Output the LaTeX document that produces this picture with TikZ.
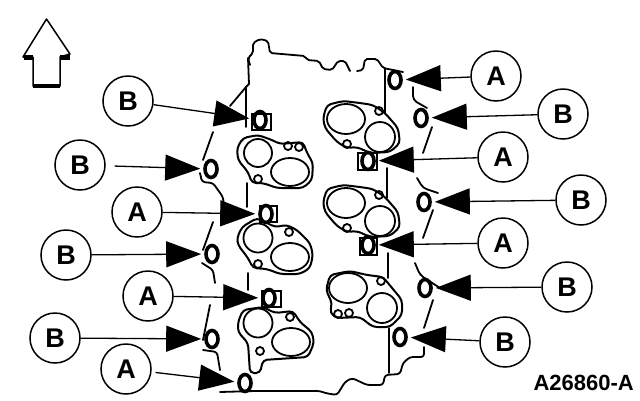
\documentclass[tikz,border=0pt]{standalone}
\usepackage{fontspec}
\setmainfont{Liberation Sans}
\usetikzlibrary{shapes.geometric,arrows.meta}
\tikzset{
  callout/.style={circle,draw,line width=1.5pt,minimum size=50pt,inner sep=0pt,font=\fontsize{27}{27}\selectfont\bfseries},
  hole/.style={ellipse,draw,line width=3.6pt,minimum width=12pt,minimum height=17pt,inner sep=0pt},
  leader/.style={line width=1.3pt,-{Triangle[length=35pt,width=26pt]},shorten >=3pt},
  part/.style={line width=1.8pt,line join=round,line cap=round},
  gasket/.style={part,line width=2pt,rounded corners=4pt},
  bore/.style={draw,line width=1.8pt},
  tinyhole/.style={circle,draw,line width=1.8pt,minimum size=8pt,inner sep=0pt}
}
\begin{document}
\begin{tikzpicture}[x=1pt,y=-1pt]
\useasboundingbox (0,0) rectangle (640,400);
% north arrow
\draw[line width=1.5pt,line join=round] (46.5,19) -- (70,54) -- (60,57) -- (60,86) -- (33,86) -- (33,57) -- (23,57) -- cycle;
\draw[line width=5pt] (24,57) -- (33,57) (60,57) -- (70,57);
\draw[line width=4pt] (33,86) -- (60,86);
% block outline
\draw[part,rounded corners=2pt] (250,65) -- (248,58) -- (253,53) -- (253,43) -- (260,39) -- (268,41) -- (270,53) -- (305,56) -- (307,60) -- (319,61) -- (323,69) -- (332,70) -- (338,61) -- (345,61) -- (350,71);
\draw[part,rounded corners=2pt] (357,71) -- (363,70) -- (365,59) -- (377,59) -- (383,68) -- (403,72);
\draw[part] (248,58) -- (249,84) -- (246,87) -- (230,106);
\draw[part] (246,87) -- (246,127);
\draw[part] (247,183) -- (247,207);
\draw[part] (248,273) -- (248,290);
\draw[part] (385,68) -- (385,113);
\draw[part] (387,168) -- (387,198);
\draw[part] (388,253) -- (388,278);
\draw[part] (389,328) -- (389,373);
\draw[part,rounded corners=3pt] (220,392) -- (255,391) -- (320,391) -- (325,393) -- (337,395) -- (345,382) -- (352,378) -- (367,385) -- (383,385) -- (385,375) -- (400,374) -- (403,363) -- (410,357) -- (424,357) -- (424,347);
% side lines, left
\draw[part,rounded corners=5pt] (213,132) -- (203,160);
\draw[part,rounded corners=3pt] (200,173) -- (202,182) -- (213,183) -- (223,197) -- (224,207);
\draw[part,rounded corners=5pt] (213,222) -- (203,250);
\draw[part,rounded corners=3pt] (202,263) -- (213,270) -- (215,283);
\draw[part,rounded corners=5pt] (210,305) -- (203,340);
\draw[part,rounded corners=3pt] (203,350) -- (217,352) -- (220,370);
% side lines, right
\draw[part,rounded corners=4pt] (413,87) -- (413,100) -- (427,108);
\draw[part,rounded corners=4pt] (432,127) -- (423,153);
\draw[part,rounded corners=4pt] (417,178) -- (423,188) -- (438,193);
\draw[part,rounded corners=4pt] (433,210) -- (423,238);
\draw[part,rounded corners=4pt] (415,263) -- (420,275) -- (440,288);
\draw[part,rounded corners=4pt] (433,300) -- (424,328);
% gasket left 1
\draw[gasket] (237,148) -- (243,138) -- (258,135) -- (272,140) -- (280,144) -- (303,142) -- (307,153) -- (313,163) -- (312,180) -- (303,188) -- (277,188) -- (263,183) -- (252,183) -- (248,172) -- (238,160) -- cycle;
\draw[bore] (258,153) circle[radius=14];
\draw[bore] (290,172) ellipse[x radius=19,y radius=14];
\node[tinyhole] (s1) at (288,146) {};
\node[tinyhole] (s2) at (299,147) {};
\node[tinyhole] (s3) at (258,179) {};
% gasket left 2
\draw[gasket] (237,238) -- (242,227) -- (257,218) -- (275,227) -- (287,225) -- (297,230) -- (310,243) -- (313,255) -- (310,268) -- (300,274) -- (280,274) -- (267,269) -- (253,268) -- (248,258) -- (238,245) -- cycle;
\draw[bore] (258,238) circle[radius=14.5];
\draw[bore] (290,257) ellipse[x radius=19,y radius=14];
\node[tinyhole] (s4) at (289,232) {};
\node[tinyhole] (s5) at (258,264) {};
% gasket left 3
\draw[gasket] (238,322) -- (243,310) -- (263,307) -- (275,313) -- (293,311) -- (300,322) -- (312,332) -- (314,343) -- (308,357) -- (263,360) -- (260,373) -- (250,373) -- (248,343) -- (238,332) -- cycle;
\draw[bore] (258,323) circle[radius=14.5];
\draw[bore] (291,342) ellipse[x radius=19,y radius=14];
\node[tinyhole] (s6) at (290,317) {};
\node[tinyhole] (s7) at (260,351) {};
% gasket right 1
\draw[gasket] (323,118) -- (327,105) -- (343,101) -- (360,103) -- (373,105) -- (385,113) -- (398,128) -- (400,143) -- (390,152) -- (370,153) -- (357,147) -- (347,148) -- (337,142) -- (325,128) -- cycle;
\draw[bore] (346,119) ellipse[x radius=19,y radius=15];
\draw[bore] (380,137) circle[radius=15];
\node[tinyhole] (s8) at (379,111) {};
\node[tinyhole] (s9) at (347,144) {};
% gasket right 2
\begin{scope}[yshift=-84pt]
\draw[gasket] (323,118) -- (327,105) -- (343,101) -- (360,103) -- (373,105) -- (385,113) -- (398,128) -- (400,143) -- (390,152) -- (370,153) -- (357,147) -- (347,148) -- (337,142) -- (325,128) -- cycle;
\draw[bore] (346,119) ellipse[x radius=19,y radius=15];
\draw[bore] (380,137) circle[radius=15];
\node[tinyhole] (s10) at (379,111) {};
\node[tinyhole] (s11) at (347,144) {};
\end{scope}
% gasket right 3
\draw[gasket] (326,290) -- (330,275) -- (350,271) -- (367,275) -- (383,277) -- (402,300) -- (402,315) -- (390,327) -- (373,327) -- (360,317) -- (337,318) -- (330,313) -- (332,303) -- cycle;
\draw[bore] (348,288) ellipse[x radius=19,y radius=15];
\draw[bore] (382,308) circle[radius=15];
\node[tinyhole] (s12) at (381,281) {};
\node[tinyhole] (s13) at (338,314) {};
\node[tinyhole] (s14) at (349,313) {};
% square pads
\draw[line width=1.6pt] (252,114) rectangle (271,130);
\draw[line width=1.6pt] (358,153) rectangle (377,170);
\draw[line width=1.6pt] (260,206) rectangle (277,222);
\draw[line width=1.6pt] (360,238) rectangle (377,255);
\draw[line width=1.6pt] (262,291) rectangle (281,307);
% bolt holes
\node[hole] (o1) at (260,120) {};
\node[hole] (o2) at (211,169) {};
\node[hole] (o3) at (266,214) {};
\node[hole] (o4) at (212,254) {};
\node[hole] (o5) at (269,298) {};
\node[hole] (o6) at (212,339) {};
\node[hole] (o7) at (245,383) {};
\node[hole] (o8) at (395,80) {};
\node[hole] (o9) at (421,118) {};
\node[hole] (o10) at (368,161) {};
\node[hole] (o11) at (424,202) {};
\node[hole] (o12) at (368,245) {};
\node[hole] (o13) at (425,288) {};
\node[hole] (o14) at (400,337) {};
% callouts
\node[callout] (c1) at (128,101) {B};
\node[callout] (c2) at (80,165) {B};
\node[callout] (c3) at (137,212) {A};
\node[callout] (c4) at (66,255) {B};
\node[callout] (c5) at (148,296) {A};
\node[callout] (c6) at (55,338) {B};
\node[callout] (c7) at (126,369) {A};
\node[callout] (c8) at (496,76) {A};
\node[callout] (c9) at (563,114) {B};
\node[callout] (c10) at (503,157) {A};
\node[callout] (c11) at (581,200) {B};
\node[callout] (c12) at (503,243) {A};
\node[callout] (c13) at (567,287) {B};
\node[callout] (c14) at (505,342) {B};
% leaders
\draw[leader] (c1) -- (o1);
\draw[leader,shorten <=9pt] (c2) -- (o2);
\draw[leader] (c3) -- (o3);
\draw[leader] (c4) -- (o4);
\draw[leader] (c5) -- (o5);
\draw[leader] (c6) -- (o6);
\draw[leader,shorten <=4pt] (c7) -- (o7);
\draw[leader] (c8) -- (o8);
\draw[leader] (c9) -- (o9);
\draw[leader] (c10) -- (o10);
\draw[leader] (c11) -- (o11);
\draw[leader] (c12) -- (o12);
\draw[leader] (c13) -- (o13);
\draw[leader] (c14) -- (o14);
% figure id
\node[anchor=east,inner sep=0pt,font=\fontsize{22}{22}\selectfont\bfseries] (id) at (634,383) {A26860-A};
\end{tikzpicture}
\end{document}
